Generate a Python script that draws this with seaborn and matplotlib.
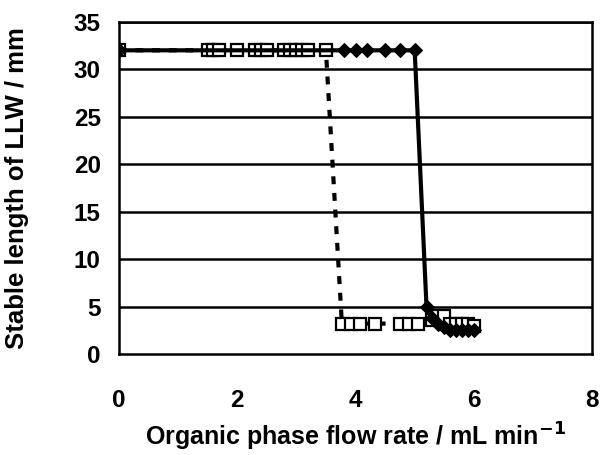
import matplotlib
matplotlib.use("Agg")
import matplotlib.pyplot as plt
import numpy as np
import pandas as pd
import seaborn as sns

# series 1: open squares, dotted line
sq_x = [0, 1.5, 1.6, 1.7, 2.0, 2.3, 2.4, 2.5, 2.8, 2.9, 3.0, 3.1, 3.2, 3.5,
        3.77, 3.92, 4.07, 4.33, 4.75, 4.9, 5.05, 5.3, 5.4, 5.5, 5.6, 5.7, 5.8, 5.9, 6.0]
sq_y = [32, 32, 32, 32, 32, 32, 32, 32, 32, 32, 32, 32, 32, 32,
        3.2, 3.2, 3.2, 3.2, 3.2, 3.2, 3.2, 3.6, 4.0, 4.0, 3.2, 3.2, 3.2, 3.2, 3.0]

# series 2: filled diamonds, solid line
dm_x = [0, 3.8, 4.0, 4.2, 4.5, 4.75, 5.0, 5.2, 5.3, 5.4, 5.5, 5.6, 5.7, 5.8, 5.9, 6.0]
dm_y = [32, 32, 32, 32, 32, 32, 32, 5.0, 3.8, 3.2, 2.8, 2.5, 2.5, 2.5, 2.5, 2.5]

x_ticks = [0, 2, 4, 6, 8]
y_ticks = [0, 5, 10, 15, 20, 25, 30, 35]

sns.set_style("white")
plt.rcParams["font.family"] = ["Liberation Sans", "DejaVu Sans"]
plt.rcParams["font.weight"] = "bold"
plt.rcParams["mathtext.default"] = "bf"
for key in ["text.color", "axes.labelcolor", "xtick.color", "ytick.color"]:
    plt.rcParams[key] = "black"

fig = plt.figure(figsize=(6, 4.55), dpi=100)
ax = fig.add_axes([0.198, 0.222, 0.789, 0.730])

for y in y_ticks[1:]:
    ax.axhline(y, color="black", lw=1.8, zorder=1)

df_sq = pd.DataFrame({"x": sq_x, "y": sq_y})
df_dm = pd.DataFrame({"x": dm_x, "y": dm_y})

sns.lineplot(data=df_sq, x="x", y="y", ax=ax, sort=False, estimator=None,
             color="black", lw=3, linestyle=(0, (1.9, 2.1)), marker="s",
             markersize=8, markerfacecolor="white", markeredgecolor="black",
             markeredgewidth=1.6, zorder=3)
sns.lineplot(data=df_dm, x="x", y="y", ax=ax, sort=False, estimator=None,
             color="black", lw=3, marker="D", markersize=7,
             markerfacecolor="black", markeredgecolor="black", zorder=4)

ax.set_xlim(0, 8)
ax.set_ylim(0, 35)
ax.set_xticks(x_ticks)
ax.set_yticks(y_ticks)
ax.tick_params(axis="x", direction="in", length=6, width=1.2, pad=25, labelsize=17.5)
ax.tick_params(axis="y", length=0, pad=13, labelsize=17.5)
for lab in ax.get_xticklabels() + ax.get_yticklabels():
    lab.set_fontweight("bold")

for s in ax.spines.values():
    s.set_color("black")
    s.set_linewidth(1.8)

ax.set_xlabel("Organic phase flow rate / mL min$^{-1}$", fontsize=18, fontweight="bold")
ax.set_ylabel("Stable length of LLW / mm", fontsize=18.5, fontweight="bold")
ax.xaxis.set_label_coords(0.5, -0.2)
ax.yaxis.set_label_coords(-0.19, 0.5)

fig.savefig("out.png", dpi=100)
